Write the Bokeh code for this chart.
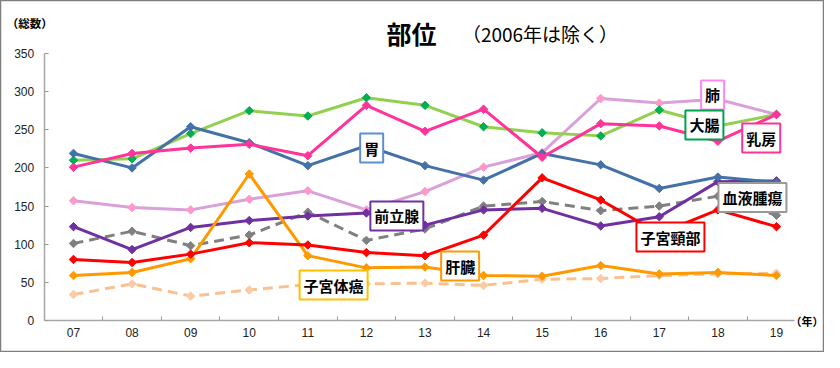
from math import pi
from bokeh.plotting import figure
from bokeh.models import Range1d, FixedTicker, Label
from bokeh.embed import file_html
from bokeh.resources import INLINE

# ---- data ----
years = [7, 8, 9, 10, 11, 12, 13, 14, 15, 16, 17, 18, 19]
year_labels = ["07", "08", "09", "10", "11", "12", "13", "14", "15", "16", "17", "18", "19"]
y_ticks = [0, 50, 100, 150, 200, 250, 300, 350]

stomach = [219, 200, 254, 233, 203, 229, 203, 184, 219, 204, 173, 188, 181]      # 胃
colon = [210, 212, 245, 275, 268, 292, 282, 254, 246, 242, 276, 255, 270]        # 大腸
breast = [201, 219, 226, 231, 216, 282, 248, 277, 214, 258, 255, 235, 270]       # 乳房
lung = [157, 148, 145, 159, 170, 145, 169, 201, 220, 291, 285, 290, 270]         # 肺
blood = [101, 117, 98, 112, 142, 105, 120, 150, 156, 144, 150, 163, 138]         # 血液腫瘍
prostate = [123, 93, 122, 131, 137, 141, 125, 145, 147, 124, 136, 182, 183]      # 前立腺
cervix = [80, 76, 87, 102, 99, 89, 85, 112, 187, 158, 114, 145, 123]             # 子宮頸部
liver = [59, 63, 81, 192, 85, 69, 70, 59, 58, 72, 61, 63, 59]                    # 肝臓
uterus = [34, 48, 32, 40, 47, 48, 49, 46, 54, 55, 59, 61, 62]                    # 子宮体癌

JP = "Noto Sans CJK JP"
NUM = "Liberation Sans"

# whole canvas is the frame; axes are pinned with fixed_location
p = figure(width=824, height=352, output_backend="svg", toolbar_location=None,
           x_range=Range1d(5.7538, 19.8200), y_range=Range1d(-41.95, 419.45),
           min_border=0)
p.xgrid.visible = False
p.ygrid.visible = False
p.outline_line_color = "#808080"
p.outline_line_width = 1.5
p.background_fill_color = "white"
p.border_fill_color = "white"

# axes
xa = p.xaxis[0]
xa.fixed_location = 0
xa.bounds = (6.5, 19.3)
xa.ticker = FixedTicker(ticks=years, minor_ticks=[y + 0.5 for y in years[:-1]])
xa.major_label_overrides = {y: l for y, l in zip(years, year_labels)}
xa.major_tick_in = 0
xa.major_tick_out = 0
xa.minor_tick_in = 4
xa.minor_tick_out = 0
xa.minor_tick_line_color = "#999999"
xa.axis_line_color = "#A6A6A6"
xa.axis_line_width = 1.5
xa.major_label_text_font = NUM
xa.major_label_text_font_size = "12px"
xa.major_label_text_color = "#222222"
xa.major_label_standoff = 8

ya = p.yaxis[0]
ya.fixed_location = 6.5
ya.bounds = (0, 350)
ya.ticker = FixedTicker(ticks=y_ticks, minor_ticks=[])
ya.major_tick_in = 4
ya.major_tick_out = 0
ya.major_tick_line_color = "#999999"
ya.axis_line_color = "#A6A6A6"
ya.axis_line_width = 1.5
ya.major_label_text_font = NUM
ya.major_label_text_font_size = "12px"
ya.major_label_text_color = "#222222"
ya.major_label_standoff = 10

def series(vals, color, marker_color, dash="solid"):
    p.line(years, vals, line_color=color, line_width=3, line_dash=dash, line_join="round")
    p.scatter(years, vals, marker="square", angle=pi / 4, size=6,
              fill_color=marker_color, line_color=marker_color, line_width=1)

series(uterus, "#FAC090", "#FBCBA6", "10 6")
series(blood, "#808080", "#808080", "10 6")
series(lung, "#D9A0D9", "#FF99CC")
series(colon, "#92D050", "#00B050")
series(prostate, "#7030A0", "#7030A0")
series(liver, "#FF9900", "#FF9900")
series(stomach, "#4472A8", "#4472A8")
series(cervix, "#FF0000", "#FF0000")
series(breast, "#FF3399", "#FF3399")

# series name boxes (layout positions)
names = ["胃", "前立腺", "肺", "大腸", "乳房", "血液腫瘍", "子宮頸部", "子宮体癌", "肝臓"]
name_x = [12.09, 12.52, 17.91, 17.77, 18.74, 18.59, 17.19, 11.44, 13.60]
name_y = [226.1, 137.0, 295.6, 256.3, 239.2, 161.2, 109.4, 46.5, 71.4]
name_border = ["#5B8FD0", "#7030A0", "#FF88EE", "#00A050", "#FF3399", "#999999", "#FF0000", "#FFC000", "#FF9900"]
for t, x, y, c in zip(names, name_x, name_y, name_border):
    p.add_layout(Label(x=x, y=y, text=t, text_font=JP, text_font_style="bold",
                       text_font_size="15px", text_color="black", text_align="center",
                       text_baseline="middle", background_fill_color="white",
                       border_line_color=c, border_line_width=2, padding=4))

# titles
p.add_layout(Label(x=12.77, y=377.5, text="部位", text_font=JP, text_font_style="bold",
                   text_font_size="25px", text_color="black", text_align="center",
                   text_baseline="middle"))
p.add_layout(Label(x=13.63, y=376.2, text="（2006年は除く）", text_font=JP,
                   text_font_size="19px", text_color="black", text_align="left",
                   text_baseline="middle"))
p.add_layout(Label(x=5.86, y=390.6, text="（総数）", text_font=JP, text_font_style="bold",
                   text_font_size="11.5px", text_color="black", text_align="left",
                   text_baseline="middle"))
p.add_layout(Label(x=19.24, y=-1.3, text="（年）", text_font=JP, text_font_style="bold",
                   text_font_size="11px", text_color="black", text_align="left",
                   text_baseline="middle"))

open("out.html", "w").write(file_html(p, INLINE))
